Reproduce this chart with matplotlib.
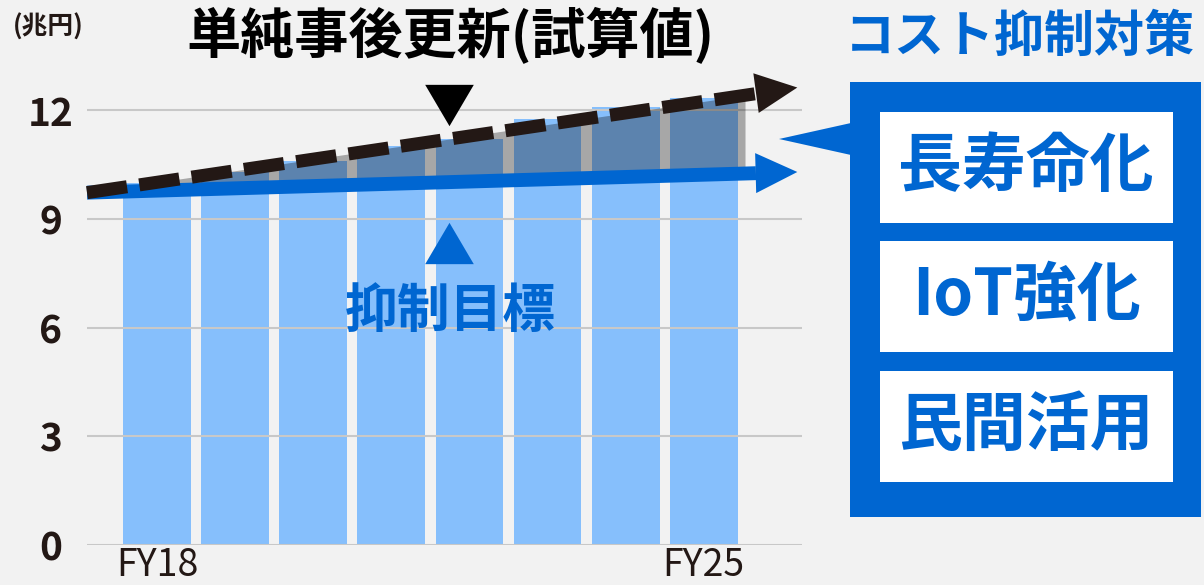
import numpy as np
import matplotlib
matplotlib.use("Agg")
import matplotlib.pyplot as plt
from matplotlib.patches import Rectangle, Polygon

plt.rcParams['font.family'] = ['Noto Sans CJK JP', 'DejaVu Sans']

# 維持管理・更新費 (兆円)
years = ['FY18', 'FY19', 'FY20', 'FY21', 'FY22', 'FY23', 'FY24', 'FY25']
year_labels = ['FY18', '', '', '', '', '', '', 'FY25']
renewal_cost = [10.0, 10.28, 10.58, 11.02, 11.21, 11.74, 12.07, 12.34]

# 矢印（始点・終点の値）
arrow_x = [-0.9, 8.2]
renewal_trend = [9.72, 12.62]   # 単純事後更新
target_trend = [9.72, 10.29]    # 抑制目標

measures = ['長寿命化', 'IoT強化', '民間活用']
y_ticks = [0, 3, 6, 9, 12]

BG = '#F2F2F2'
BLUE = '#0066D1'
LIGHT = '#86BFFC'
DARK = '#231815'
W, H = 1204, 585


def fx(px):
    return px / W


def fy(py):
    return 1 - py / H


fig = plt.figure(figsize=(W / 100, H / 100), dpi=100, facecolor=BG)
ax = fig.add_axes([fx(87), 40 / H, 715 / W, 507.5 / H])
ax.set_facecolor(BG)
ax.set_xlim(-0.9, 8.26)
ax.set_ylim(0, 14)

x = np.arange(len(years))
ax.bar(x, renewal_cost, width=0.87, color=LIGHT, zorder=1)

# 抑制目標と単純更新の差（帯）
head_base = 7.67
xs = np.array([arrow_x[0], 7.53])
lo = np.interp(xs, arrow_x, target_trend)
hi = np.interp(xs, arrow_x, renewal_trend)
ax.fill_between(xs, lo, hi, color='black', alpha=0.31, lw=0, zorder=2)

# 抑制目標の線
tb = np.interp(head_base, arrow_x, target_trend)
ax.plot([arrow_x[0], head_base], [target_trend[0], tb], color=BLUE, lw=10,
        solid_capstyle='butt', zorder=3, clip_on=False)
ax.annotate('', xy=(arrow_x[1], target_trend[1]), xytext=(head_base - 0.05, tb),
            arrowprops=dict(arrowstyle='-|>,head_length=1.5,head_width=0.72',
                            mutation_scale=20, color=BLUE, lw=0,
                            shrinkA=0, shrinkB=0), zorder=3, annotation_clip=False)

# 単純事後更新の線（破線）
rb = np.interp(head_base, arrow_x, renewal_trend)
ax.plot([arrow_x[0], head_base], [renewal_trend[0], rb], color=DARK, lw=9.4,
        dashes=(3.1, 0.95), dash_capstyle='butt', zorder=4, clip_on=False)
ax.annotate('', xy=(arrow_x[1], renewal_trend[1]), xytext=(head_base - 0.05, rb),
            arrowprops=dict(arrowstyle='-|>,head_length=1.5,head_width=0.72',
                            mutation_scale=20, color=DARK, lw=0,
                            shrinkA=0, shrinkB=0), zorder=4, annotation_clip=False)

# 三角マーカー
tri_down = [(0, -0.85), (-1, 0.85), (1, 0.85)]
tri_up = [(0, 0.85), (-1, -0.85), (1, -0.85)]
ax.plot([3.74], [12.14], marker=tri_down, ms=35, color='black', mew=0, zorder=5,
        clip_on=False)
ax.plot([3.74], [8.33], marker=tri_up, ms=35, color=BLUE, mew=0, zorder=5)

ax.set_axisbelow('line')
ax.yaxis.grid(True, color='#C8C8C8', lw=1.5)
ax.set_yticks(y_ticks)
ax.set_yticklabels([str(v) for v in y_ticks], fontsize=28, fontweight='bold',
                   color=DARK, ha='center')
ax.tick_params(axis='y', length=0, pad=26)
ax.set_xticks(x)
ax.set_xticklabels(year_labels, fontsize=27, color=DARK)
ax.tick_params(axis='x', length=0, pad=1)
for s in ax.spines.values():
    s.set_visible(False)

fig.text(fx(48), fy(27), '(兆円)', fontsize=18.5, fontweight='bold', color=DARK,
         ha='center', va='center')
fig.text(fx(450), fy(37), '単純事後更新(試算値)', fontsize=39, fontweight='bold',
         color='black', ha='center', va='center')
fig.text(fx(450), fy(312), '抑制目標', fontsize=38, fontweight='bold', color=BLUE,
         ha='center', va='center')
fig.text(fx(1020), fy(37), 'コスト抑制対策', fontsize=36, fontweight='bold',
         color=BLUE, ha='center', va='center')

# 右側の対策パネル
fig.add_artist(Rectangle((fx(850), fy(517)), 351 / W, 435 / H, facecolor=BLUE,
                         edgecolor='none', transform=fig.transFigure))
fig.add_artist(Polygon([(fx(779), fy(139)), (fx(851), fy(123)), (fx(851), fy(155))],
                       closed=True, facecolor=BLUE, edgecolor='none',
                       transform=fig.transFigure))
box_tops = [112, 241, 371]
for top, label in zip(box_tops, measures):
    fig.add_artist(Rectangle((fx(880), fy(top + 111)), 293 / W, 111 / H,
                             facecolor='white', edgecolor='none',
                             transform=fig.transFigure))
    fig.text(fx(1026), fy(top + 55), label, fontsize=46, fontweight='bold',
             color=BLUE, ha='center', va='center')

fig.savefig('out.png', dpi=100, facecolor=BG)
